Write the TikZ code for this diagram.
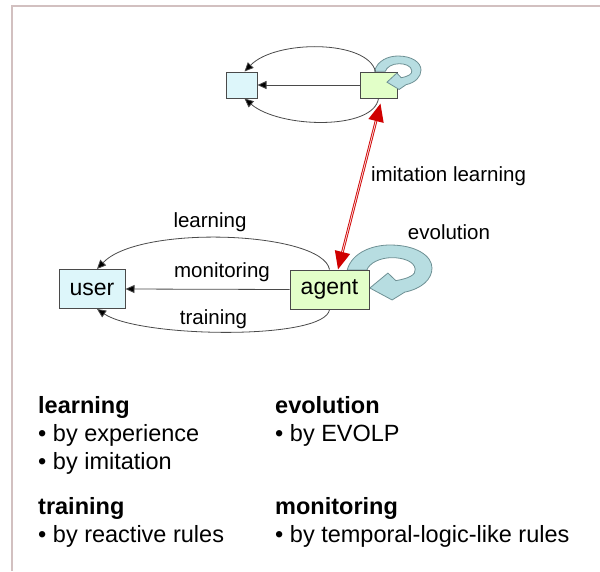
\documentclass[tikz,border=0pt]{standalone}
\usepackage{fontspec}
\setmainfont{Liberation Sans}
\usetikzlibrary{arrows.meta}

\definecolor{usercol}{HTML}{DDF6FA}
\definecolor{agentcol}{HTML}{E2FFC8}
\definecolor{curlcol}{HTML}{B7DDE1}
\definecolor{curledge}{HTML}{6E9094}
\definecolor{framecol}{HTML}{D2C0C0}
\definecolor{linecol}{HTML}{4A4A4A}
\definecolor{imitcol}{HTML}{D00000}

\begin{document}
\begin{tikzpicture}
            [x=1pt,y=-1pt,
             main/.style = {draw=linecol,rectangle,line width=1pt,inner sep=0pt,minimum height=39,font=\fontsize{23}{28}\selectfont},
             conn/.style = {draw=linecol,line width=0.8pt,-{Triangle[length=9pt,width=8pt,fill=black]}},
             lbl/.style = {inner sep=0pt,font=\fontsize{20.5}{24}\selectfont},
             curl/.style = {fill=curlcol,draw=curledge,line width=0.8pt},
             notes/.style = {anchor=north west,align=left,inner sep=0pt,font=\fontsize{23.5}{28}\selectfont}]
            \useasboundingbox (0,0) rectangle (600,571);
            \draw[framecol,line width=1.2] (12,571) -- (12,6) -- (600,6);

            % evolution loop of the agent
            \begin{scope}[shift={(390,268)},xscale=42,yscale=23]
              \filldraw[curl] (-1.02,0.09) .. controls (-0.9,-0.7) and (-0.4,-1) .. (0,-1)
                .. controls (0.6,-1) and (1,-0.55) .. (1,0)
                .. controls (1,0.5) and (0.75,0.9) .. (0.35,1.05)
                -- (0.05,1.39) -- (-0.48,0.87) -- (-0.05,0.22) -- (0.14,0.55)
                .. controls (0.45,0.45) and (0.62,0.3) .. (0.6,0.05)
                .. controls (0.58,-0.3) and (0.3,-0.45) .. (0.05,-0.45)
                .. controls (-0.25,-0.45) and (-0.5,-0.2) .. (-0.55,0.09) -- cycle;
            \end{scope}

            \node[main,fill=usercol,minimum width=66] (User) at (92,289) {user};
            \node[main,fill=agentcol,minimum width=79] (Agent) at (329.5,289.5) {agent};
            \node[main,fill=usercol,minimum width=31,minimum height=26] (PeerUser) at (241.5,85) {};
            \node[main,fill=agentcol,minimum width=37,minimum height=26] (PeerAgent) at (378.5,85) {};

            % evolution loop of the peer agent, over its box
            \begin{scope}[shift={(398,70)},xscale=23,yscale=14]
              \filldraw[curl] (-1.02,0.09) .. controls (-0.9,-0.7) and (-0.4,-1) .. (0,-1)
                .. controls (0.6,-1) and (1,-0.55) .. (1,0)
                .. controls (1,0.5) and (0.75,0.9) .. (0.35,1.05)
                -- (0.05,1.39) -- (-0.48,0.87) -- (-0.05,0.22) -- (0.14,0.55)
                .. controls (0.45,0.45) and (0.62,0.3) .. (0.6,0.05)
                .. controls (0.58,-0.3) and (0.3,-0.45) .. (0.05,-0.45)
                .. controls (-0.25,-0.45) and (-0.5,-0.2) .. (-0.55,0.09) -- cycle;
            \end{scope}

            \draw[conn] (Agent.west) -- (User.east);
            \draw[conn] (Agent.north) .. controls +(-7,-38) and +(43,-45) .. ([xshift=5]User.north);
            \draw[conn] (Agent.south) .. controls +(-4,31) and +(43,29) .. ([xshift=5]User.south);
            \draw[conn] (PeerAgent.west) -- (PeerUser.east);
            \draw[conn] ([xshift=-3]PeerAgent.north) .. controls +(-8,-32) and +(31,-32) .. ([xshift=3]PeerUser.north);
            \draw[conn] (PeerAgent.south) .. controls +(-5,32) and +(35,30) .. ([xshift=3]PeerUser.south);

            % imitation learning
            \draw[imitcol,line width=2.6pt,{Triangle[length=18pt,width=15pt]}-{Triangle[length=18pt,width=15pt]}]
                  ([xshift=8.5]Agent.north) -- ([xshift=2,yshift=-5]PeerAgent.south);
            \draw[imitcol!18,line width=0.9pt,shorten <=18pt,shorten >=18pt]
                  ([xshift=8.5]Agent.north) -- ([xshift=2,yshift=-5]PeerAgent.south);

            \node[lbl] (LearnLbl) at (210,222) {learning};
            \node[lbl] (MonitorLbl) at (222,272) {monitoring};
            \node[lbl] (TrainLbl) at (213.5,319) {training};
            \node[lbl] (EvolLbl) at (449,232) {evolution};
            \node[lbl] (ImitLbl) at (448.5,176) {imitation learning};

            \node[notes] (LearnNote) at (38,396) {\textbf{learning}\\• by experience\\• by imitation};
            \node[notes] (EvolNote) at (275,396) {\textbf{evolution}\\• by EVOLP};
            \node[notes] (TrainNote) at (38,497) {\textbf{training}\\• by reactive rules};
            \node[notes] (MonitorNote) at (275,497) {\textbf{monitoring}\\• by temporal-logic-like rules};
\end{tikzpicture}
\end{document}
